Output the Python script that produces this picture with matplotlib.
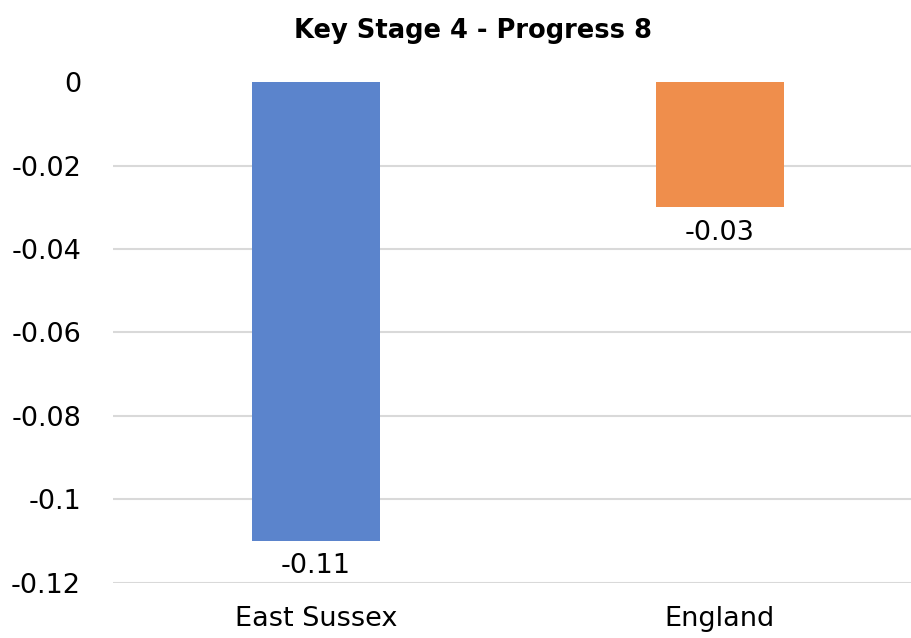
import matplotlib
matplotlib.use('Agg')
import matplotlib.pyplot as plt

# chart data
categories = ['East Sussex', 'England']
values = [-0.11, -0.03]
bar_colors = ['#5B84CC', '#EF8E4C']
y_ticks = [0, -0.02, -0.04, -0.06, -0.08, -0.1, -0.12]
y_tick_labels = ['0', '-0.02', '-0.04', '-0.06', '-0.08', '-0.1', '-0.12']

plt.rcParams['font.family'] = ['DejaVu Sans']

fig = plt.figure(figsize=(9.11, 6.38), dpi=100)
ax = fig.add_axes([0.124, 0.0867, 0.876, 0.7843])

x = list(range(len(categories)))
bars = ax.bar(x, values, width=0.317, color=bar_colors, zorder=2)

# data labels just under each bar
for b, v in zip(bars, values):
    ax.annotate('%g' % v, (b.get_x() + b.get_width() / 2, v),
                xytext=(0, -9), textcoords='offset points',
                ha='center', va='top', fontsize=19.5)

ax.set_xlim(-0.5025, 1.473)
ax.set_ylim(-0.12, 0)
ax.set_yticks(y_ticks)
ax.set_yticklabels(y_tick_labels, fontsize=19.5)
ax.set_xticks(x)
ax.set_xticklabels(categories, fontsize=19.5)
ax.tick_params(length=0)
ax.tick_params(axis='x', pad=17)
ax.tick_params(axis='y', pad=23)

# horizontal gridlines (none at zero)
for t in y_ticks[1:]:
    ax.axhline(t, color='#D9D9D9', lw=1.5, zorder=1)

for s in ax.spines.values():
    s.set_visible(False)

fig.text(0.519, 0.951, 'Key Stage 4 - Progress 8', ha='center', va='center',
         fontsize=18.5, fontweight='bold')

fig.savefig('out.png', dpi=100)
